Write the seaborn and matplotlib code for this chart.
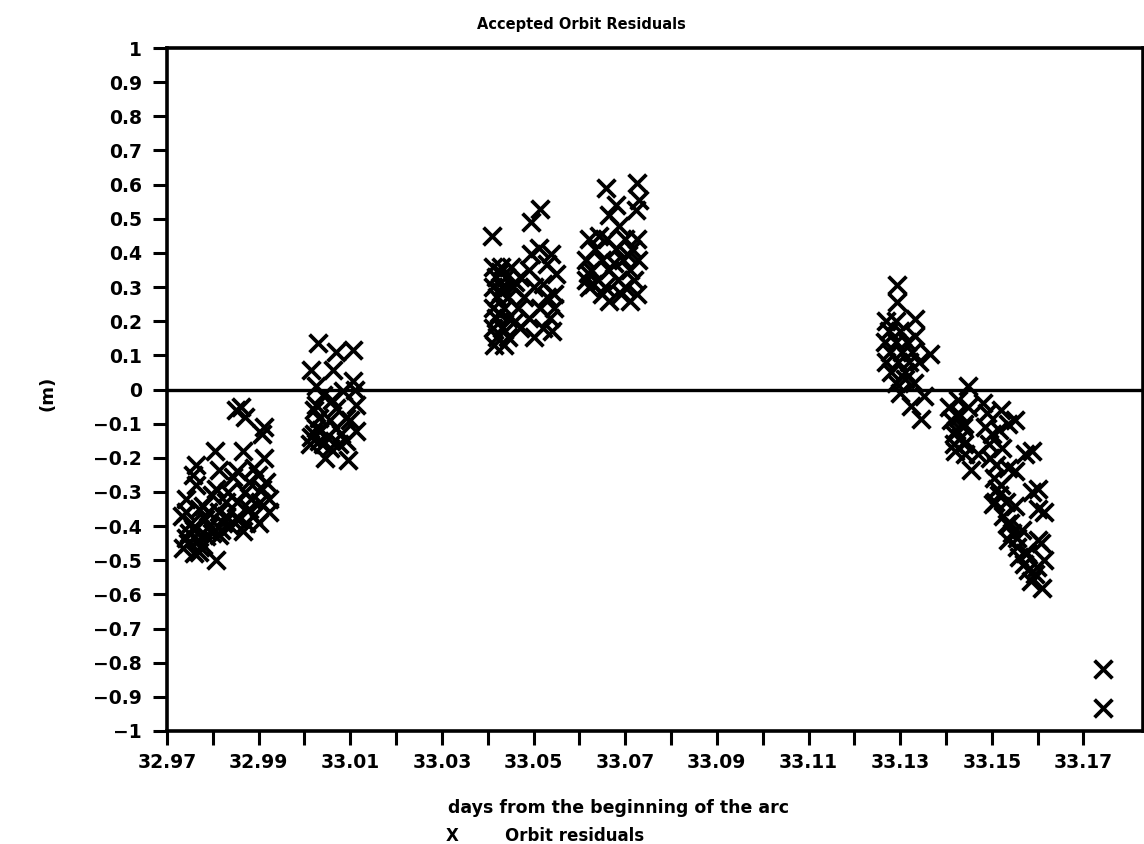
import matplotlib
matplotlib.use("Agg")
import matplotlib.pyplot as plt
import numpy as np
import pandas as pd
import seaborn as sns

# ---------------- data ----------------
TITLE = "Accepted Orbit Residuals"
X_LABEL = "days from the beginning of the arc"
Y_LABEL = "(m)"
LEGEND_LABEL = "Orbit residuals"

x_tick_values = [32.97, 32.98, 32.99, 33.00, 33.01, 33.02, 33.03, 33.04, 33.05, 33.06, 33.07,
                 33.08, 33.09, 33.10, 33.11, 33.12, 33.13, 33.14, 33.15, 33.16, 33.17]
x_tick_labels = ["32.97", "", "32.99", "", "33.01", "", "33.03", "", "33.05", "", "33.07",
                 "", "33.09", "", "33.11", "", "33.13", "", "33.15", "", "33.17"]
y_tick_values = [1, 0.9, 0.8, 0.7, 0.6, 0.5, 0.4, 0.3, 0.2, 0.1, 0,
                 -0.1, -0.2, -0.3, -0.4, -0.5, -0.6, -0.7, -0.8, -0.9, -1]
y_tick_labels = ["1", "0.9", "0.8", "0.7", "0.6", "0.5", "0.4", "0.3", "0.2", "0.1", "0",
                 "\u22120.1", "\u22120.2", "\u22120.3", "\u22120.4", "\u22120.5",
                 "\u22120.6", "\u22120.7", "\u22120.8", "\u22120.9", "\u22121"]

# pass 1 (around 32.97 - 32.99)
pass1 = [(32.9861, -0.05), (32.9850, -0.06), (32.9871, -0.08), (32.9911, -0.11), (32.9908, -0.13),
         (32.9804, -0.18), (32.9865, -0.18), (32.9911, -0.20), (32.9763, -0.22), (32.9813, -0.235),
         (32.9889, -0.23), (32.9756, -0.25), (32.9843, -0.255), (32.9915, -0.27), (32.9763, -0.28),
         (32.9806, -0.29), (32.9871, -0.30), (32.9922, -0.32), (32.9741, -0.32), (32.9828, -0.33),
         (32.9769, -0.35), (32.9878, -0.35), (32.9922, -0.36), (32.9741, -0.36), (32.9813, -0.36),
         (32.9850, -0.375), (32.9733, -0.37), (32.9900, -0.39), (32.9791, -0.40), (32.9756, -0.405),
         (32.9741, -0.435), (32.9813, -0.425), (32.9865, -0.415), (32.9735, -0.465), (32.9778, -0.455),
         (32.9806, -0.50), (32.9769, -0.475), (32.9748, -0.42), (32.9768, -0.44), (32.9783, -0.38),
         (32.9798, -0.42), (32.9823, -0.39), (32.9838, -0.40), (32.9858, -0.38), (32.9888, -0.37),
         (32.9778, -0.34), (32.9798, -0.31), (32.9833, -0.30), (32.9853, -0.33), (32.9903, -0.33),
         (32.9878, -0.27), (32.9853, -0.24), (32.9908, -0.29), (32.9753, -0.39), (32.9773, -0.46),
         (32.9758, -0.48), (32.9828, -0.37), (32.9873, -0.39), (32.9883, -0.32), (32.9898, -0.25),
         (32.9745, -0.45), (32.9760, -0.41), (32.9785, -0.43), (32.9790, -0.36), (32.9818, -0.41)]

# pass 2 (around 33.00 - 33.01)
pass2 = [(33.0030, 0.135), (33.0069, 0.11), (33.0107, 0.115), (33.0015, 0.058), (33.0063, 0.058),
         (33.0107, 0.026), (33.0026, 0.011), (33.0041, -0.015), (33.0085, -0.004), (33.0026, -0.045),
         (33.0069, -0.054), (33.0113, -0.045), (33.0032, -0.083), (33.0091, -0.083), (33.0026, -0.112),
         (33.0069, -0.112), (33.0113, -0.121), (33.0032, -0.15), (33.0091, -0.15), (33.0045, -0.20),
         (33.0095, -0.205), (33.0015, -0.14), (33.0055, -0.17), (33.0075, -0.16), (33.0035, -0.12),
         (33.0055, -0.09), (33.0080, -0.13), (33.0012, -0.16), (33.0020, -0.06), (33.0050, -0.14),
         (33.0040, -0.16), (33.0020, -0.13), (33.0100, -0.09), (33.0060, -0.03), (33.0110, 0.00)]

# pass 3 (around 33.04 - 33.05)
pass3 = [(33.0409, 0.45), (33.0495, 0.49), (33.0513, 0.53), (33.0511, 0.414), (33.0494, 0.396),
         (33.0537, 0.396), (33.0529, 0.367), (33.0548, 0.337), (33.0490, 0.35), (33.0520, 0.31),
         (33.0545, 0.28),
         (33.0411, 0.36), (33.0430, 0.36), (33.0450, 0.36),
         (33.0418, 0.33), (33.0440, 0.33), (33.0470, 0.33),
         (33.0411, 0.30), (33.0432, 0.30), (33.0455, 0.30), (33.0500, 0.30),
         (33.0420, 0.27), (33.0445, 0.27), (33.0480, 0.27), (33.0530, 0.27),
         (33.0411, 0.24), (33.0435, 0.24), (33.0465, 0.24), (33.0515, 0.24), (33.0545, 0.24),
         (33.0418, 0.21), (33.0445, 0.21), (33.0490, 0.21), (33.0535, 0.21),
         (33.0411, 0.18), (33.0432, 0.18), (33.0470, 0.18), (33.0520, 0.18),
         (33.0420, 0.155), (33.0445, 0.155), (33.0500, 0.155), (33.0540, 0.17),
         (33.0413, 0.13), (33.0435, 0.13),
         (33.0425, 0.225), (33.0428, 0.285), (33.0426, 0.345), (33.0460, 0.20), (33.0460, 0.315)]

# pass 4 (around 33.06 - 33.07)
pass4 = [(33.0659, 0.59), (33.0725, 0.605), (33.0679, 0.54), (33.0729, 0.555), (33.0723, 0.525),
         (33.0664, 0.51), (33.0686, 0.48), (33.0642, 0.45),
         (33.0620, 0.44), (33.0660, 0.44), (33.0700, 0.44), (33.0725, 0.44),
         (33.0635, 0.41), (33.0680, 0.41), (33.0715, 0.41),
         (33.0615, 0.38), (33.0650, 0.38), (33.0695, 0.38), (33.0728, 0.38),
         (33.0625, 0.35), (33.0665, 0.35), (33.0710, 0.35),
         (33.0615, 0.32), (33.0640, 0.32), (33.0685, 0.32), (33.0720, 0.32),
         (33.0620, 0.30), (33.0655, 0.30), (33.0700, 0.30),
         (33.0650, 0.28), (33.0690, 0.28), (33.0725, 0.28),
         (33.0665, 0.26), (33.0710, 0.26),
         (33.0618, 0.34), (33.0630, 0.31), (33.0675, 0.37), (33.0705, 0.395)]

# pass 5 (around 33.125 - 33.135)
pass5 = [(33.1294, 0.305), (33.1294, 0.257), (33.1333, 0.207), (33.1365, 0.105), (33.1333, 0.157),
         (33.1341, 0.081), (33.1311, 0.032), (33.1324, -0.047), (33.1346, -0.085), (33.1352, -0.018),
         (33.1270, 0.20), (33.1290, 0.20),
         (33.1275, 0.17), (33.1300, 0.17),
         (33.1268, 0.14), (33.1290, 0.14), (33.1315, 0.14),
         (33.1278, 0.11), (33.1305, 0.11), (33.1325, 0.11),
         (33.1270, 0.08), (33.1295, 0.08), (33.1320, 0.08),
         (33.1280, 0.05), (33.1310, 0.05),
         (33.1290, 0.02), (33.1330, 0.02),
         (33.1300, -0.01)]

# pass 6 (around 33.14)
pass6 = [(33.1448, 0.01), (33.1427, -0.03), (33.1427, -0.07), (33.1440, -0.10), (33.1418, -0.13),
         (33.1440, -0.16), (33.1455, -0.235), (33.1407, -0.05), (33.1412, -0.09), (33.1422, -0.12),
         (33.1432, -0.14), (33.1417, -0.16), (33.1427, -0.08), (33.1437, -0.11), (33.1442, -0.19),
         (33.1447, -0.05), (33.1420, -0.18)]

# pass 7 (around 33.145 - 33.16)
pass7 = [(33.1485, -0.11), (33.1535, -0.10), (33.1522, -0.17), (33.1572, -0.19), (33.1469, -0.19),
         (33.1550, -0.24), (33.1587, -0.30), (33.1600, -0.35), (33.1506, -0.33), (33.1550, -0.34),
         (33.1535, -0.44), (33.1600, -0.44), (33.1572, -0.48), (33.1594, -0.54), (33.1609, -0.58),
         (33.1521, -0.06), (33.1550, -0.09), (33.1587, -0.18), (33.1600, -0.29), (33.1615, -0.36),
         (33.1608, -0.45), (33.1615, -0.50), (33.1496, -0.20), (33.1512, -0.29), (33.1503, -0.335),
         (33.1533, -0.395), (33.1554, -0.435), (33.1576, -0.48), (33.1598, -0.52),
         (33.1490, -0.07), (33.1500, -0.13), (33.1495, -0.16), (33.1510, -0.22), (33.1505, -0.26),
         (33.1520, -0.28), (33.1515, -0.31), (33.1530, -0.33), (33.1525, -0.37), (33.1540, -0.39),
         (33.1545, -0.42), (33.1555, -0.46), (33.1560, -0.49), (33.1570, -0.51), (33.1580, -0.53),
         (33.1585, -0.56), (33.1565, -0.41), (33.1535, -0.23), (33.1480, -0.04), (33.1515, -0.12)]

# isolated points at the end of the arc
pass8 = [(33.1743, -0.817), (33.1743, -0.934)]

passes = [pass1, pass2, pass3, pass4, pass5, pass6, pass7, pass8]
df = pd.DataFrame([p for ps in passes for p in ps], columns=["day", "residual"])

# ---------------- figure ----------------
sns.set_style("ticks")
plt.rcParams["font.family"] = ["DejaVu Sans"]
plt.rcParams["font.weight"] = "bold"
plt.rcParams["text.color"] = "black"
plt.rcParams["xtick.color"] = "black"
plt.rcParams["ytick.color"] = "black"
plt.rcParams["xtick.labelcolor"] = "black"
plt.rcParams["ytick.labelcolor"] = "black"
plt.rcParams["axes.labelcolor"] = "black"

W, H = 1144, 844
fig = plt.figure(figsize=(W / 100, H / 100), dpi=100)
ax = fig.add_axes([167 / W, 1 - 731 / H, (1143 - 167) / W, (731 - 48) / H])

ax.axhline(0, color="black", lw=2.4, zorder=1)
sns.scatterplot(data=df, x="day", y="residual", marker="x", color="black",
                s=165, linewidth=2.7, legend=False, ax=ax, zorder=2)

ax.set_xlim(32.97, 33.183)
ax.set_ylim(-1, 1)
ax.set_xticks(x_tick_values)
ax.set_xticklabels(x_tick_labels, fontsize=13.5, fontweight="bold", color="black")
ax.set_yticks(y_tick_values)
ax.set_yticklabels(y_tick_labels, fontsize=13.5, fontweight="bold", color="black")
ax.tick_params(axis="both", direction="out", length=10, width=2.2, color="black")
ax.tick_params(axis="x", pad=6)
ax.tick_params(axis="y", pad=8)
ax.set_xlabel("")
ax.set_ylabel("")
for sp in ax.spines.values():
    sp.set_visible(True)
    sp.set_linewidth(2.6)
    sp.set_color("black")

fig.text(477 / W, 1 - 25 / H, TITLE, ha="left", va="center", fontsize=10.5,
         fontweight="bold", color="black")
fig.text(48 / W, 1 - 393 / H, Y_LABEL, rotation=90, ha="center", va="center",
         fontsize=13, fontweight="bold", color="black")
fig.text(619 / W, 1 - 808 / H, X_LABEL, ha="center", va="center", fontsize=12.5,
         fontweight="bold", color="black")
fig.text(452 / W, 1 - 836 / H, "X", ha="center", va="center", fontsize=12,
         fontweight="bold", color="black")
fig.text(505 / W, 1 - 836 / H, LEGEND_LABEL, ha="left", va="center", fontsize=12,
         fontweight="bold", color="black")

fig.savefig("out.png", dpi=100)
